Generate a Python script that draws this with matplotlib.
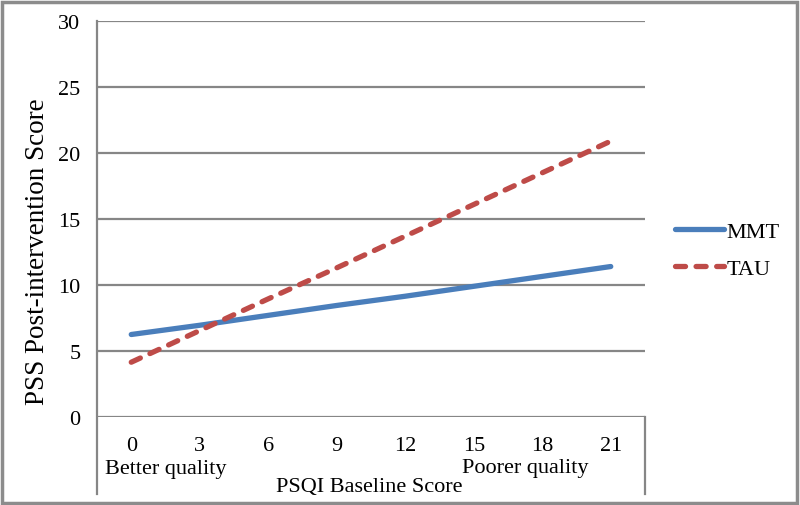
import matplotlib
matplotlib.use("Agg")
import matplotlib.pyplot as plt
from matplotlib.lines import Line2D
from matplotlib.patches import Rectangle

categories = ["0", "3", "6", "9", "12", "15", "18", "21"]
mmt = [6.25, 6.95, 7.7, 8.45, 9.15, 9.9, 10.65, 11.4]
tau = [4.15, 6.55, 8.95, 11.3, 13.7, 16.1, 18.5, 20.9]
yticks = [0, 5, 10, 15, 20, 25, 30]

plt.rcParams['font.family'] = ['Liberation Serif', 'DejaVu Serif']

W, H = 800, 506
fig = plt.figure(figsize=(W / 100, H / 100), dpi=100)
L, R, T, B = 97, 645, 22, 418
ax = fig.add_axes([L / W, 1 - B / H, (R - L) / W, (B - T) / H])

x = list(range(len(categories)))
grid_c = "#868686"
for v in yticks:
    ax.axhline(v, color=grid_c, lw=1.6, zorder=1)
l1, = ax.plot(x, mmt, color="#4a7ebb", lw=3.8, solid_capstyle="round", label="MMT", zorder=3)
l2, = ax.plot(x, tau, color="#be4b48", lw=3.8, ls=(0, (1.9, 2.0)), dash_capstyle="round",
              label="TAU", zorder=3)

ax.set_xlim(-0.5, len(categories) - 0.5)
ax.set_ylim(0, 30)
ax.set_yticks(yticks)
ax.set_xticks(x)
ax.set_xticklabels(categories)
for s in ax.spines.values():
    s.set_visible(False)
ax.tick_params(axis="both", length=0, labelsize=16, colors="black")
ax.tick_params(axis="y", pad=12)
ax.tick_params(axis="x", pad=14)

# extra plot-area frame lines
fig.add_artist(Line2D([L / W, L / W], [1 - T / H, 1 - 495 / H], color=grid_c, lw=1.6,
                      transform=fig.transFigure))
fig.add_artist(Line2D([R / W, R / W], [1 - B / H, 1 - 495 / H], color=grid_c, lw=1.6,
                      transform=fig.transFigure))

fig.text(166 / W, 1 - 470 / H, "Better quality", ha="center", va="center", fontsize=16)
fig.text(525 / W, 1 - 469 / H, "Poorer quality", ha="center", va="center", fontsize=16)
fig.text(369 / W, 1 - 488 / H, "PSQI Baseline Score", ha="center", va="center", fontsize=16)
fig.text(38 / W, 1 - 252 / H, "PSS Post-intervention Score", ha="center", va="center",
         rotation=90, fontsize=19.5)

# legend
leg = fig.legend(handles=[l1, l2], loc="center left",
                 bbox_to_anchor=(655 / W, 1 - 251 / H), frameon=False, fontsize=16,
                 handlelength=2.2, handletextpad=0.1, labelspacing=0.75)

fig.add_artist(Rectangle((2 / W, 2 / H), (W - 5) / W, (H - 5) / H, fill=False,
                         edgecolor="#8c8c8c", lw=2.5, transform=fig.transFigure))

fig.savefig("out.png", dpi=100)
